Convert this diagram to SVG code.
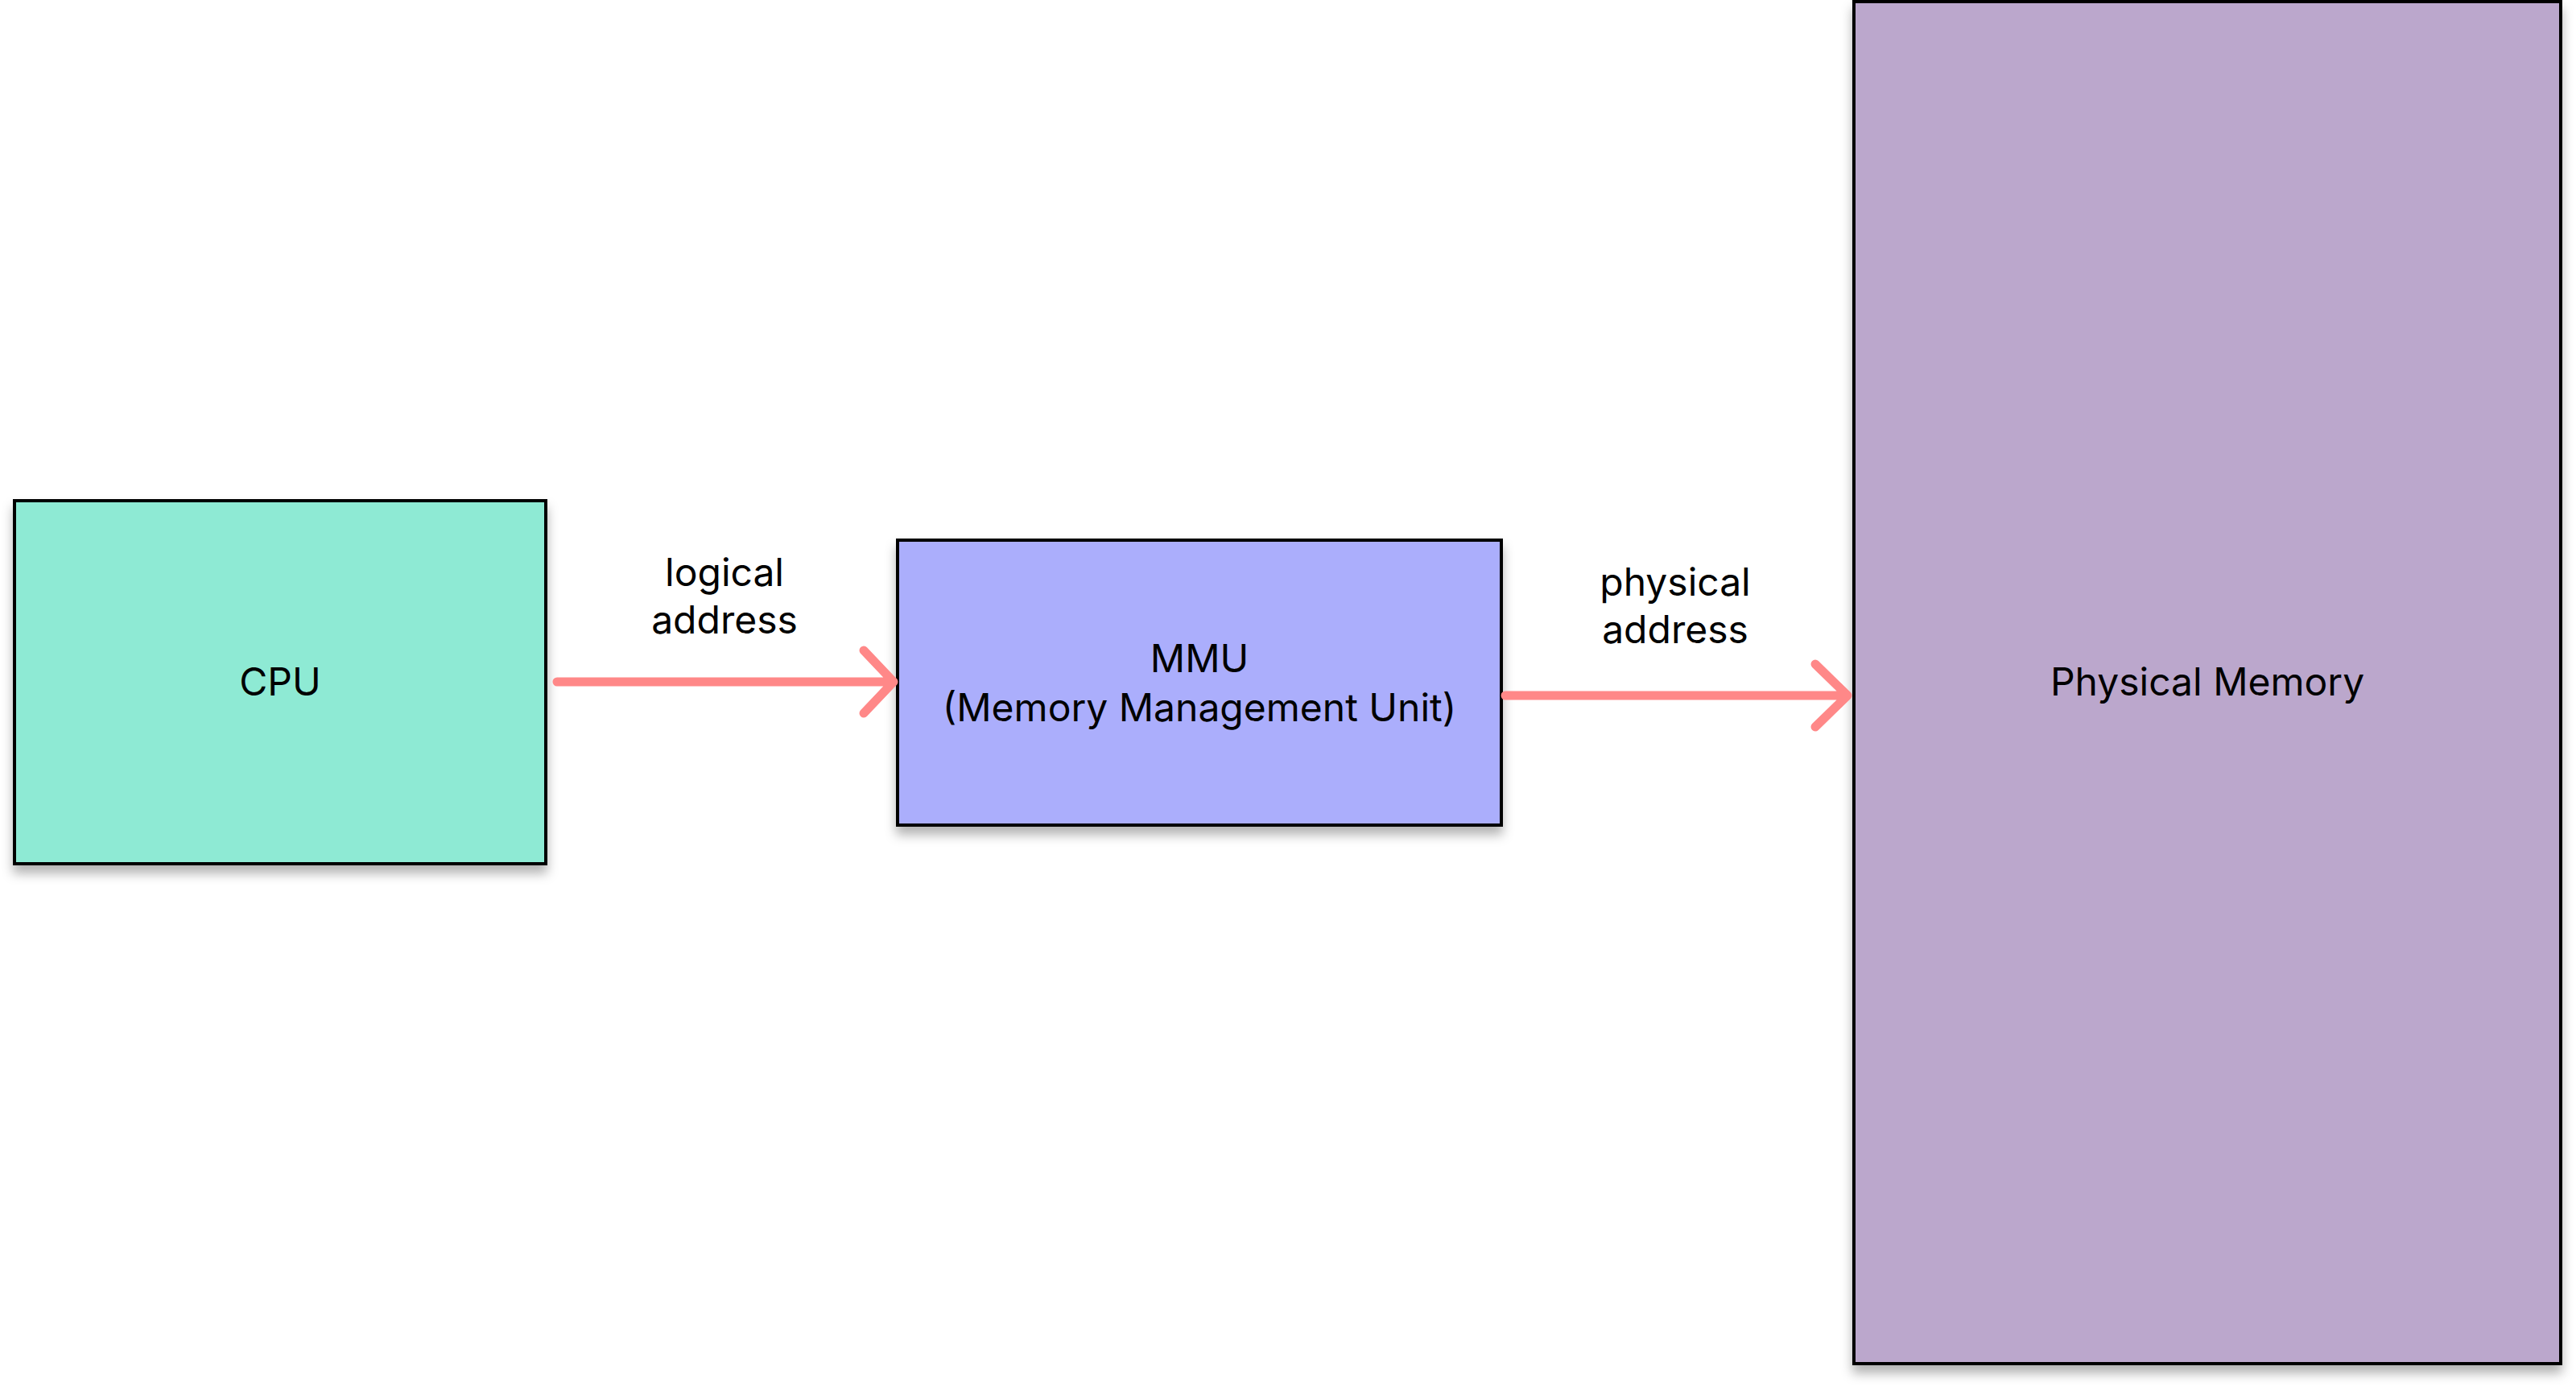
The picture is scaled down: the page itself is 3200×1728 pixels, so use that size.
<svg xmlns="http://www.w3.org/2000/svg" width="3200" height="1728" viewBox="0 0 3200 1728">
<style>
.box{stroke:#000;stroke-width:4;filter:url(#sh)}
.t{font-family:Inter,"Liberation Sans",sans-serif;font-size:48px;fill:#000;text-anchor:middle}
.c{fill:none;stroke:#FF8888;stroke-width:11;stroke-linecap:round;stroke-linejoin:round}
</style>
<defs>
<filter id="sh" x="-10%" y="-10%" width="120%" height="125%">
<feDropShadow dx="0" dy="10" stdDeviation="7" flood-color="#000" flood-opacity="0.3"/>
</filter>
</defs>
<rect width="3200" height="1728" fill="#fff"/>
<g id="cpu">
<rect class="box" x="18" y="622" width="660" height="451" fill="#8EEAD4"/>
<text class="t" x="348" y="864">CPU</text>
</g>
<g id="mmu">
<rect class="box" x="1115" y="671" width="750" height="354" fill="#ABAEFC"/>
<text class="t" x="1490" y="835">MMU</text>
<text class="t" x="1490" y="896">(Memory Management Unit)</text>
</g>
<g id="physical-memory">
<rect class="box" x="2303" y="2" width="878" height="1692" fill="#BBA7CC"/>
<text class="t" x="2742" y="864">Physical Memory</text>
</g>
<g id="connectors">
<path class="c" d="M692 847 H1110 M1073 808 L1110 847 L1073 886"/>
<path class="c" d="M1870 864 H2295 M2255 825 L2295 864 L2255 903"/>
<text class="t" x="900" y="728">logical</text>
<text class="t" x="900" y="787">address</text>
<text class="t" x="2081" y="740">physical</text>
<text class="t" x="2081" y="799">address</text>
</g>
</svg>
